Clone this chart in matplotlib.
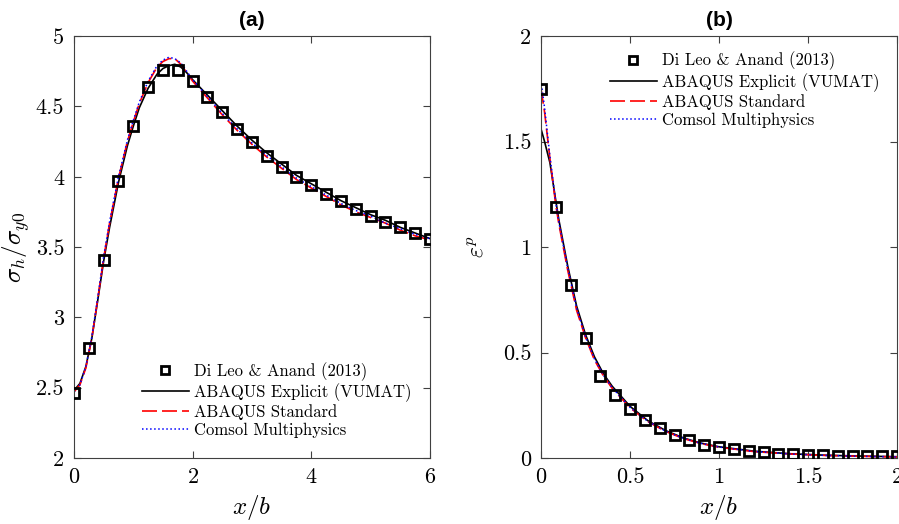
import matplotlib
matplotlib.use("Agg")
import matplotlib.pyplot as plt

# (a) hydrostatic stress along x/b
xa_ref = [0, 0.25, 0.5, 0.75, 1.0, 1.25, 1.5, 1.75, 2.0, 2.25, 2.5, 2.75, 3.0,
          3.25, 3.5, 3.75, 4.0, 4.25, 4.5, 4.75, 5.0, 5.25, 5.5, 5.75, 6.0]
ya_ref = [2.46, 2.78, 3.41, 3.97, 4.36, 4.64, 4.76, 4.76, 4.68, 4.57, 4.46, 4.34, 4.25,
          4.15, 4.07, 4.00, 3.94, 3.88, 3.83, 3.77, 3.72, 3.68, 3.64, 3.60, 3.56]

xa = [0, 0.1, 0.2, 0.3, 0.4, 0.5, 0.6, 0.75, 0.9, 1.0, 1.1, 1.25, 1.4, 1.5, 1.6, 1.7,
      1.8, 1.9, 2.0, 2.25, 2.5, 2.75, 3.0, 3.25, 3.5, 3.75, 4.0, 4.25, 4.5, 4.75,
      5.0, 5.25, 5.5, 5.75, 6.0]
ya_explicit = [2.48, 2.53, 2.65, 2.85, 3.12, 3.40, 3.64, 3.96, 4.22, 4.36, 4.49, 4.63,
               4.73, 4.77, 4.79, 4.80, 4.78, 4.74, 4.69, 4.58, 4.47, 4.36, 4.26, 4.17,
               4.09, 4.01, 3.95, 3.89, 3.83, 3.78, 3.73, 3.69, 3.64, 3.60, 3.56]
ya_standard = [2.47, 2.52, 2.64, 2.85, 3.13, 3.42, 3.67, 3.99, 4.25, 4.39, 4.52, 4.67,
               4.78, 4.82, 4.84, 4.84, 4.80, 4.74, 4.68, 4.56, 4.44, 4.33, 4.23, 4.14,
               4.06, 3.98, 3.92, 3.86, 3.80, 3.75, 3.71, 3.67, 3.62, 3.58, 3.55]
ya_comsol = [2.47, 2.52, 2.65, 2.86, 3.14, 3.43, 3.68, 4.00, 4.26, 4.40, 4.53, 4.68,
             4.79, 4.83, 4.85, 4.84, 4.81, 4.75, 4.69, 4.57, 4.45, 4.34, 4.24, 4.15,
             4.07, 3.99, 3.93, 3.87, 3.81, 3.76, 3.72, 3.67, 3.63, 3.59, 3.56]

# (b) equivalent plastic strain along x/b
xb_ref = [k / 12 for k in range(25)]
yb_ref = [1.75, 1.19, 0.82, 0.57, 0.39, 0.30, 0.23, 0.18, 0.14, 0.11, 0.085, 0.06, 0.05,
          0.043, 0.035, 0.028, 0.02, 0.017, 0.015, 0.012, 0.011, 0.01, 0.009, 0.008, 0.007]

xb = [0, 0.02, 0.05, 0.083, 0.1, 0.15, 0.2, 0.25, 0.3, 0.35, 0.4, 0.5, 0.6, 0.7, 0.8,
      0.9, 1.0, 1.2, 1.4, 1.6, 1.8, 2.0]
yb_explicit = [1.56, 1.50, 1.40, 1.22, 1.13, 0.91, 0.72, 0.585, 0.48, 0.40, 0.34, 0.245,
               0.177, 0.13, 0.095, 0.07, 0.053, 0.032, 0.020, 0.013, 0.009, 0.006]
yb_standard = [1.75, 1.64, 1.42, 1.20, 1.11, 0.89, 0.70, 0.57, 0.465, 0.39, 0.33, 0.238,
               0.172, 0.126, 0.092, 0.068, 0.051, 0.030, 0.019, 0.012, 0.008, 0.005]
yb_comsol = [1.79, 1.66, 1.43, 1.21, 1.12, 0.90, 0.71, 0.575, 0.47, 0.393, 0.333, 0.24,
             0.174, 0.127, 0.093, 0.069, 0.052, 0.031, 0.019, 0.012, 0.008, 0.005]

labels = ["Di Leo & Anand (2013)", "ABAQUS Explicit (VUMAT)",
          "ABAQUS Standard", "Comsol Multiphysics"]

plt.rcParams["font.family"] = ["cmr10", "DejaVu Serif"]
plt.rcParams["mathtext.fontset"] = "cm"
plt.rcParams["axes.formatter.use_mathtext"] = True
plt.rcParams["axes.unicode_minus"] = False

AX_COLOR = "#404040"

fig = plt.figure(figsize=(8.99, 5.24), dpi=100)
ax1 = fig.add_axes([0.0823, 0.126, 0.396, 0.805])
ax2 = fig.add_axes([0.6018, 0.126, 0.396, 0.805])


def draw(ax, xr, yr, x, ye, ys, yc):
    ax.plot(xr, yr, "s", ms=7, mfc="none", mec="black", mew=2.0, label=labels[0], zorder=5)
    ax.plot(x, ye, "-", color="black", lw=1.2, label=labels[1])
    ax.plot(x, ys, "--", color="red", lw=1.2, dashes=(9, 3), label=labels[2])
    ax.plot(x, yc, ":", color="blue", lw=1.1, label=labels[3])


draw(ax1, xa_ref, ya_ref, xa, ya_explicit, ya_standard, ya_comsol)
draw(ax2, xb_ref, yb_ref, xb, yb_explicit, yb_standard, yb_comsol)

ax1.set_xlim(0, 6)
ax1.set_ylim(2, 5)
ax1.set_xticks([0, 2, 4, 6])
ax1.set_yticks([2, 2.5, 3, 3.5, 4, 4.5, 5])
ax1.set_yticklabels(["2", "2.5", "3", "3.5", "4", "4.5", "5"])
ax1.set_xlabel(r"$x/b$", fontsize=18, labelpad=4)
ax1.set_ylabel(r"$\sigma_h/\sigma_{y0}$", fontsize=18, labelpad=3)
ax1.set_title("(a)", fontsize=15, fontweight="bold", family="Liberation Sans", pad=7)

ax2.set_xlim(0, 2)
ax2.set_ylim(0, 2)
ax2.set_xticks([0, 0.5, 1, 1.5, 2])
ax2.set_xticklabels(["0", "0.5", "1", "1.5", "2"])
ax2.set_yticks([0, 0.5, 1, 1.5, 2])
ax2.set_yticklabels(["0", "0.5", "1", "1.5", "2"])
ax2.set_xlabel(r"$x/b$", fontsize=18, labelpad=4)
ax2.set_ylabel(r"$\varepsilon^p$", fontsize=17, labelpad=10)
ax2.set_title("(b)", fontsize=15, fontweight="bold", family="Liberation Sans", pad=7)

for ax in (ax1, ax2):
    ax.tick_params(direction="in", top=True, right=True, length=5, width=0.8,
                   labelsize=16, colors=AX_COLOR, labelcolor="black", pad=7)
    for s in ax.spines.values():
        s.set_color(AX_COLOR)
        s.set_linewidth(0.8)

leg_kw = dict(loc="upper left", frameon=False, fontsize=12, numpoints=1, markerscale=0.75,
              handlelength=2.8, handletextpad=0.3, labelspacing=0.15, borderpad=0,
              borderaxespad=0)
ax1.legend(bbox_to_anchor=(0.191, 0.228), **leg_kw)
ax2.legend(bbox_to_anchor=(0.194, 0.963), **leg_kw)

fig.savefig("out.png", dpi=100)
